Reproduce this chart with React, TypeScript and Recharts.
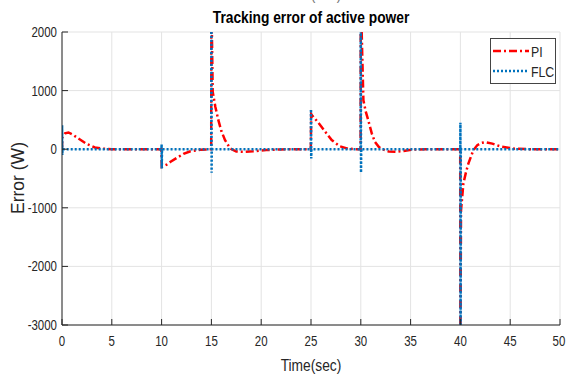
import React from 'react';
import { LineChart, Line, XAxis, YAxis, CartesianGrid, Legend } from 'recharts';

const X_TICKS = [0, 5, 10, 15, 20, 25, 30, 35, 40, 45, 50];
const Y_TICKS = [-3000, -2000, -1000, 0, 1000, 2000];
const SERIES_ORDER = ['PI', 'FLC'];

const PI_T = [
  0, 0.02, 0.3, 0.65, 1.1, 1.65, 2.5, 3.3, 4.1, 5,
  9.98, 10.02, 10.5, 10.9, 11.5, 12.2, 12.9, 13.9, 14.98,
  15.0, 15.13, 15.4, 15.7, 16.0, 16.37, 16.87, 17.5, 18.3, 19.2, 20.5, 22, 24.98,
  25.02, 25.1, 25.6, 26.07, 26.6, 27.08, 27.9, 28.7, 29.5, 29.98,
  30.0, 30.26, 30.5, 30.75, 31.1, 31.42, 31.8, 32.1, 32.8, 33.5, 34.3, 35.2, 36.5, 39.98,
  40.0, 40.06, 40.3, 40.55, 40.8, 41.3, 41.7, 42.1, 42.5, 43.2, 43.97, 45.3, 47, 50,
];
const PI_V = [
  0, 200, 270, 285, 245, 182, 88, 30, 10, 0,
  0, -300, -265, -215, -150, -80, -35, -8, 0,
  2600, 980, 720, 495, 310, 155, 15, -40, -45, -35, -15, -3, 0,
  600, 580, 480, 380, 260, 155, 50, 10, 0, 0,
  2600, 835, 640, 495, 270, 125, 40, 5, -40, -45, -30, -8, 0, 0,
  -3600, -1050, -585, -400, -245, -17, 70, 108, 120, 95, 50, 10, 0, 0,
];

const FLC_T = [
  0, 0.01, 0.03, 0.05, 9.99, 10.0, 10.02, 10.04, 14.99, 15.0, 15.02, 15.04,
  24.99, 25.0, 25.02, 25.04, 29.99, 30.0, 30.02, 30.04, 39.99, 40.0, 40.02, 40.04, 50,
];
const FLC_V = [
  0, 410, -100, 0, 0, 85, -330, 0, 0, 2600, -400, 0,
  0, 680, -160, 0, 0, 2600, -400, 0, 0, 450, -3600, 0, 0,
];

const piData = PI_T.map((t, i) => ({ t, v: PI_V[i] }));
const flcData = FLC_T.map((t, i) => ({ t, v: FLC_V[i] }));

const RED = '#FF0000';
const BLUE = '#0072BD';
const AXIS = '#262626';
const FONT = '"Liberation Sans", Arial, sans-serif';
const SQ = 0.82;
const DASH: Record<string, string> = { PI: '8 3 2 3', FLC: '2 2' };

const sq = (x: number, y: number) => `translate(${x} ${y}) scale(${SQ} 1) translate(${-x} ${-y})`;

const XTick = (props: any) => {
  const { x, y, payload } = props;
  return (
    <text x={x} y={y} dy="0.71em" textAnchor="middle" fill={AXIS} fontSize={14} fontFamily={FONT} transform={sq(x, y)}>
      {payload.value}
    </text>
  );
};

const YTick = (props: any) => {
  const { x, y, payload } = props;
  return (
    <text x={x} y={y} dy="0.355em" textAnchor="end" fill={AXIS} fontSize={14} fontFamily={FONT} transform={sq(x, y)}>
      {payload.value}
    </text>
  );
};

const LegendBox = (props: any) => {
  const payload = [...(props.payload || [])].sort(
    (a: any, b: any) => SERIES_ORDER.indexOf(a.value) - SERIES_ORDER.indexOf(b.value)
  );
  return (
    <div style={{ border: '1px solid #444', background: '#fff', padding: '2px 4px 2px 2px', width: 58, fontFamily: FONT, fontSize: 15, color: AXIS }}>
      {payload.map((p: any) => (
        <div key={p.value} style={{ display: 'flex', alignItems: 'center', height: 20 }}>
          <svg width={36} height={8} style={{ marginRight: 2, flex: 'none' }}>
            <line x1={0} y1={4} x2={36} y2={4} stroke={p.color} strokeWidth={2.5} strokeDasharray={DASH[p.value]} />
          </svg>
          <span style={{ display: 'inline-block', transform: `scaleX(${SQ})`, transformOrigin: 'left center', whiteSpace: 'nowrap' }}>{p.value}</span>
        </div>
      ))}
    </div>
  );
};

const centered = (top: number, size: number, extra: React.CSSProperties = {}): React.CSSProperties => ({
  position: 'absolute', top, left: 191, width: 240, textAlign: 'center', fontFamily: FONT, fontSize: size,
  lineHeight: `${size + 2}px`, transform: `scaleX(${SQ + 0.04})`, transformOrigin: 'center', whiteSpace: 'nowrap', ...extra,
});

export default function App() {
  return (
    <div style={{ position: 'absolute', left: 0, top: 0, width: 567, height: 376, overflow: 'hidden', background: '#fff' }}>
      <div style={centered(-14, 16, { color: '#777' })}>Time(sec)</div>
      <div style={centered(9, 16, { fontWeight: 'bold', color: '#000' })}>Tracking error of active power</div>
      <div style={centered(357, 16, { color: AXIS })}>Time(sec)</div>
      <div style={{ position: 'absolute', left: 18, top: 178, width: 0, height: 0 }}>
        <div style={{ position: 'absolute', left: -60, top: -10, width: 120, textAlign: 'center', fontFamily: FONT, fontSize: 17.5, lineHeight: '20px', color: AXIS, transform: 'rotate(-90deg)', whiteSpace: 'nowrap' }}>Error (W)</div>
      </div>
      <LineChart width={567} height={376} margin={{ top: 32, right: 7, bottom: 0, left: 0 }}>
        <CartesianGrid stroke="#e3e3e3" strokeWidth={1} />
        <XAxis
          dataKey="t"
          type="number"
          domain={[0, 50]}
          ticks={X_TICKS}
          allowDataOverflow
          height={51}
          stroke={AXIS}
          tickSize={-6}
          tickMargin={17}
          tick={<XTick />}
        />
        <XAxis
          xAxisId="top"
          orientation="top"
          dataKey="t"
          type="number"
          domain={[0, 50]}
          ticks={X_TICKS}
          height={0}
          stroke={AXIS}
          tickSize={-6}
          tickFormatter={() => ''}
        />
        <YAxis
          type="number"
          domain={[-3000, 2000]}
          ticks={Y_TICKS}
          allowDataOverflow
          width={62}
          stroke={AXIS}
          tickSize={-6}
          tickMargin={11}
          tick={<YTick />}
        />
        <YAxis
          yAxisId="right"
          orientation="right"
          type="number"
          domain={[-3000, 2000]}
          ticks={Y_TICKS}
          width={0}
          stroke={AXIS}
          tickSize={-6}
          tickFormatter={() => ''}
        />
        <Legend
          layout="vertical"
          align="center"
          verticalAlign="middle"
          content={<LegendBox />}
          wrapperStyle={{ top: 38, left: 490, width: 'auto', height: 'auto' }}
        />
        <Line
          data={piData}
          dataKey="v"
          name="PI"
          type="linear"
          stroke={RED}
          strokeWidth={2.5}
          strokeDasharray={DASH.PI}
          dot={false}
          activeDot={false}
          isAnimationActive={false}
        />
        <Line
          data={flcData}
          dataKey="v"
          name="FLC"
          type="linear"
          stroke={BLUE}
          strokeWidth={2.5}
          strokeDasharray={DASH.FLC}
          dot={false}
          activeDot={false}
          isAnimationActive={false}
        />
      </LineChart>
    </div>
  );
}
